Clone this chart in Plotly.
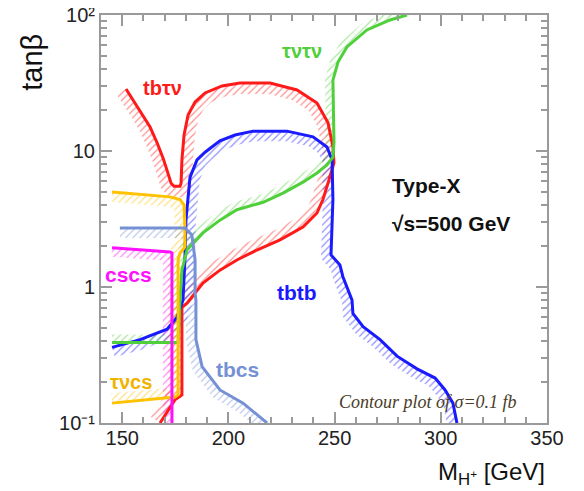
import numpy as np
import plotly.graph_objects as go

# ---------------- data (M_H+ [GeV], tan beta) ----------------
tbtn_x = [151.8, 155.1, 159.3, 163.1, 166.4, 169.2, 171.1, 173.0, 174.4, 177.2, 177.7, 178.1, 179.1, 181.0,
          184.3, 189.0, 197.0, 205.4, 219.6, 232.3, 241.7, 246.9, 249.2, 249.7, 246.9, 244.5, 241.7, 235.1,
          224.3, 213.4, 204.0, 196.0, 188.0, 184.3, 180.5, 178.1, 178.1, 174.8, 167.8]
tbtn_y = [28.6, 23.7, 19.0, 15.0, 11.5, 8.9, 7.2, 5.8, 5.5, 5.5, 5.8, 8.6, 13.1, 18.4,
          22.9, 26.7, 30.1, 31.6, 31.6, 28.1, 22.5, 16.1, 10.7, 8.2, 5.8, 4.4, 3.5, 2.76,
          2.22, 1.87, 1.58, 1.33, 1.07, 0.90, 0.76, 0.71, 0.161, 0.148, 0.10]

tbtb_x = [145.2, 158.4, 171.1, 175.8, 178.6, 179.5, 180.0, 181.0, 181.9, 185.2, 189.0, 196.0, 203.1, 211.6,
          227.6, 239.8, 246.4, 248.8, 249.2, 248.3, 252.5, 253.9, 256.3, 258.2, 258.6, 263.4, 271.4, 279.4,
          288.8, 297.3, 302.0, 305.7, 307.6]
tbtb_y = [0.36, 0.41, 0.49, 0.60, 0.80, 1.58, 3.1, 4.4, 6.4, 8.6, 9.8, 11.9, 13.1, 14.0,
          14.0, 12.7, 10.7, 8.6, 4.4, 1.72, 1.45, 1.19, 0.95, 0.80, 0.64, 0.51, 0.41, 0.31,
          0.25, 0.214, 0.175, 0.140, 0.10]

tntn_x = [145.2, 176.3, 177.2, 178.1, 180.5, 188.0, 196.0, 204.0, 216.3, 225.7, 235.1, 241.7, 246.4, 249.2,
          249.7, 249.2, 251.6, 255.8, 265.2, 276.1, 284.1]
tntn_y = [0.39, 0.39, 0.80, 1.33, 1.87, 2.50, 3.1, 3.7, 4.2, 4.9, 5.9, 6.9, 7.9, 9.0,
          11.5, 33.2, 45.1, 58.2, 77.6, 91.9, 100.0]

tncs_x = [145.2, 172.5, 177.2, 179.1, 179.5, 179.5, 177.2, 176.3, 176.3, 174.8, 145.2]
tncs_y = [5.0, 4.6, 4.4, 4.0, 2.76, 1.97, 1.78, 1.58, 0.161, 0.155, 0.140]

cscs_x = [145.2, 172.5, 173.4, 173.4]
cscs_y = [1.94, 1.81, 1.78, 0.10]

tbcs_x = [148.9, 179.5, 182.8, 184.3, 184.3, 184.7, 184.7, 187.6, 196.0, 206.9, 218.2]
tbcs_y = [2.72, 2.72, 2.41, 1.58, 0.90, 0.80, 0.41, 0.26, 0.175, 0.140, 0.10]

x_ticks = [150, 200, 250, 300, 350]
y_ticks = [0.1, 1, 10, 100]
y_ticktext = ["10⁻¹", "1", "10", "10²"]

# ---------------- helpers ----------------
X0, XS, YS = 140.0, 2.124, 136.0  # px per GeV, px per decade (for band offset only)


def band(xs, ys, side, w):
    u = (np.asarray(xs, float) - X0) * XS
    v = -np.log10(np.asarray(ys, float)) * YS
    n = len(u)
    segn = []
    for i in range(n - 1):
        du, dv = u[i + 1] - u[i], v[i + 1] - v[i]
        L = np.hypot(du, dv)
        segn.append(np.array([-dv / L, du / L]))
    nu, nv = np.zeros(n), np.zeros(n)
    for i in range(n):
        adj = []
        if i > 0:
            adj.append(segn[i - 1])
        if i < n - 1:
            adj.append(segn[i])
        m = sum(adj)
        m = m / np.hypot(*m)
        c = max(0.55, float(np.dot(m, adj[0])))
        m = m / c
        nu[i], nv[i] = m
    ou = u + side * w * nu
    ov = v + side * w * nv
    pu = np.concatenate([u, ou[::-1], u[:1]])
    pv = np.concatenate([v, ov[::-1], v[:1]])
    return X0 + pu / XS, 10 ** (-pv / YS)


curves = [
    (tbtn_x, tbtn_y, "#ff1a1a", 1, 11),
    (tbtb_x, tbtb_y, "#1a1aff", 1, 10),
    (tntn_x, tntn_y, "#4fcf3a", -1, 8),
    (tncs_x, tncs_y, "#ffc200", 1, 10),
    (cscs_x, cscs_y, "#ff10ff", 1, 9),
    (tbcs_x, tbcs_y, "#7590d4", 1, 10),
]

fig = go.Figure()
for xs, ys, col, side, w in curves:
    bx, by = band(xs, ys, side, w)
    fig.add_trace(go.Scatter(
        x=bx, y=by, mode="lines", line=dict(width=0, color=col), fill="toself",
        fillcolor="rgba(0,0,0,0)",
        fillpattern=dict(shape="/", fgcolor=col, fgopacity=0.5, size=5, solidity=0.24,
                         bgcolor="rgba(0,0,0,0)"),
        hoverinfo="skip", showlegend=False))
for xs, ys, col, side, w in curves:
    fig.add_trace(go.Scatter(x=xs, y=ys, mode="lines", line=dict(color=col, width=3),
                             showlegend=False))

axcol = "#9a9a9a"
fig.update_xaxes(range=[140, 350], tickvals=x_ticks, ticks="inside", ticklen=11, tickwidth=1.5,
                 tickcolor=axcol, showline=True, linecolor=axcol, linewidth=2, mirror="allticks",
                 showgrid=False, zeroline=False, automargin=False, ticklabelstandoff=-4,
                 ticklabeloverflow="allow",
                 minor=dict(dtick=10, ticks="inside", ticklen=6, tickcolor=axcol, showgrid=False),
                 tickfont=dict(family="Liberation Sans, Arial", size=20, color="#222"))
fig.update_yaxes(type="log", range=[-1, 2], tickvals=y_ticks, ticktext=y_ticktext, ticks="inside",
                 ticklen=11, tickwidth=1.5, tickcolor=axcol, showline=True, linecolor=axcol, linewidth=2,
                 mirror="allticks", showgrid=False, zeroline=False, automargin=False,
                 ticklabeloverflow="allow",
                 minor=dict(tickvals=[m * 10.0 ** e for e in (-1, 0, 1) for m in range(2, 10)],
                            ticks="inside", ticklen=6, tickcolor=axcol, showgrid=False),
                 tickfont=dict(family="Liberation Sans, Arial", size=20, color="#222"))

ann = []
def lab(text, x, y, col, size=17, bold=True, **kw):
    t = f"<b>{text}</b>" if bold else text
    kw.setdefault("xanchor", "center")
    kw.setdefault("yanchor", "middle")
    ann.append(dict(text=t, x=x, y=y, xref="paper", yref="paper", showarrow=False,
                    font=dict(family=kw.pop("family", "Liberation Sans, Arial"), size=size, color=col),
                    **kw))

lab("tbτν", 0.139, 0.821, "#ff1a1a", 20)
lab("τντν", 0.451, 0.912, "#4fcf3a", 20)
lab("tbtb", 0.439, 0.319, "#1a1aff", 21)
lab("tbcs", 0.305, 0.130, "#7590d4", 21)
lab("cscs", 0.061, 0.363, "#ff10ff", 21)
lab("τνcs", 0.067, 0.100, "#f0b400", 20)
lab("Type-X", 0.648, 0.583, "#111", 21, xanchor="left")
lab("√s=500 GeV", 0.648, 0.490, "#111", 21, xanchor="left")
lab("<i>Contour plot of σ=0.1 fb</i>", 0.733, 0.051, "#4a3c28", 18, bold=False,
    family="Liberation Serif, Times New Roman")
lab("tanβ", -0.155, 0.885, "#111", 29, bold=False, textangle=-90)
lab("M<sub>H<sup>+</sup></sub> [GeV]", 1.0, -0.123, "#111", 24, bold=False, xanchor="right")

# page body has an 8px default margin: figure is 8px smaller and margins shifted accordingly
fig.update_layout(width=576, height=483, margin=dict(l=93, r=37, t=7, b=68, autoexpand=False),
                  paper_bgcolor="white", plot_bgcolor="white", annotations=ann,
                  font=dict(family="Liberation Sans, Arial"))
fig.write_html("out.html")
